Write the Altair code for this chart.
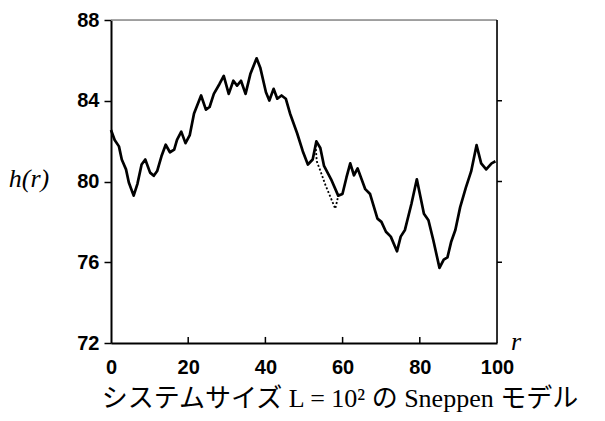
import altair as alt
import pandas as pd

# solid trajectory h(r)
r_solid = [0.0, 0.95, 2.06, 2.79, 3.89, 4.62, 5.87, 6.83, 7.93, 8.88, 10.13, 11.08, 11.96,
           13.07, 14.17, 15.27, 16.37, 17.10, 18.20, 19.30, 20.41, 21.51, 23.34, 24.59, 25.54,
           26.64, 28.11, 29.21, 30.5, 31.7, 32.66, 33.68, 34.86, 36.1, 37.72, 38.67, 40.14,
           41.02, 42.12, 43.08, 44.18, 45.28, 46.38, 48.22, 49.68, 51.0, 52.25, 53.21, 54.23,
           55.19, 57.02, 58.86, 59.96, 61.0, 61.98, 62.94, 63.89, 65.87, 67.12, 69.03, 70.06,
           71.23, 72.48, 74.09, 75.05, 76.15, 77.84, 79.23, 81.07, 82.24, 83.49, 85.1, 86.2,
           87.16, 88.11, 89.21, 90.46, 91.93, 93.3, 94.7, 95.9, 97.2, 98.6, 99.6]
h_solid = [82.55, 82.06, 81.74, 81.09, 80.6, 79.95, 79.3, 79.87, 80.84, 81.09, 80.44, 80.28, 80.52,
           81.25, 81.82, 81.45, 81.58, 82.06, 82.47, 81.9, 82.3, 83.37, 84.26, 83.56, 83.69,
           84.34, 84.83, 85.23, 84.34, 84.99, 84.75, 84.99, 84.34, 85.32, 86.1, 85.64, 84.42,
           84.01, 84.59, 84.1, 84.26, 84.1, 83.37, 82.39, 81.5, 80.84, 81.09, 81.99, 81.66,
           80.77, 80.11, 79.3, 79.38, 80.2, 80.9, 80.31, 80.65, 79.62, 79.38, 78.16, 78.0,
           77.51, 77.27, 76.54, 77.27, 77.6, 78.9, 80.11, 78.4, 78.08, 77.1, 75.72, 76.13,
           76.24, 77.0, 77.6, 78.73, 79.7, 80.5, 81.8, 80.9, 80.6, 80.9, 81.0]

# dotted alternative branch
r_dot = [53.0, 53.3, 54.1, 55.6, 56.7, 58.1, 58.9]
h_dot = [81.8, 81.0, 80.6, 79.8, 79.3, 78.65, 79.3]

x_ticks = [0, 20, 40, 60, 80, 100]
y_ticks = [72, 76, 80, 84, 88]
inner_x_ticks = [20, 40, 60, 80]

W, H = 386, 323

solid = pd.DataFrame({"r": r_solid, "h": h_solid, "i": list(range(len(r_solid)))})
dot = pd.DataFrame({"r": r_dot, "h": h_dot, "i": list(range(len(r_dot)))})

xs = alt.Scale(domain=[0, 100], nice=False, zero=False)
ys = alt.Scale(domain=[72, 88], nice=False, zero=False)

x_axis = alt.Axis(values=x_ticks, ticks=False, domain=True, domainColor="black", domainWidth=2,
                  labelFont="Liberation Sans", labelFontWeight="bold", labelFontSize=20,
                  labelColor="black", labelPadding=14, labelFlush=False, grid=False, title=None)
y_axis = alt.Axis(values=y_ticks, ticks=True, tickSize=7, tickWidth=1.5, tickColor="black",
                  domain=True, domainColor="black", domainWidth=2,
                  labelFont="Liberation Sans", labelFontWeight="bold", labelFontSize=20,
                  labelColor="black", labelPadding=5, labelFlush=False, grid=False, title=None)

line = alt.Chart(solid).mark_line(color="black", strokeWidth=2.7, strokeJoin="round").encode(
    x=alt.X("r:Q", scale=xs, axis=x_axis),
    y=alt.Y("h:Q", scale=ys, axis=y_axis),
    order="i:Q",
)

dotted = alt.Chart(dot).mark_line(color="black", strokeWidth=1.8, strokeDash=[2, 2]).encode(
    x=alt.X("r:Q", scale=xs),
    y=alt.Y("h:Q", scale=ys),
    order="i:Q",
)

# frame: right border and grey top border
right_df = pd.DataFrame({"x": [100], "y": [72], "y2": [88]})
right_border = alt.Chart(right_df).mark_rule(color="black", strokeWidth=1.6).encode(
    x=alt.X("x:Q", scale=xs), y=alt.Y("y:Q", scale=ys), y2="y2:Q")
top_df = pd.DataFrame({"x": [0], "x2": [100], "y": [88]})
top_border = alt.Chart(top_df).mark_rule(color="#888888", strokeWidth=1.4).encode(
    x=alt.X("x:Q", scale=xs), x2="x2:Q", y=alt.Y("y:Q", scale=ys))

# inward ticks on the bottom axis
bt_df = pd.DataFrame({"x": inner_x_ticks, "y": [72] * 4, "y2": [72.3] * 4})
bottom_ticks = alt.Chart(bt_df).mark_rule(color="black", strokeWidth=1.5).encode(
    x=alt.X("x:Q", scale=xs), y=alt.Y("y:Q", scale=ys), y2="y2:Q")

# outward ticks on the right border
rt_df = pd.DataFrame({"x": [100] * 3, "x2": [101.3] * 3, "y": [76, 80, 84]})
right_ticks = alt.Chart(rt_df).mark_rule(color="black", strokeWidth=1.5).encode(
    x=alt.X("x:Q", scale=xs), x2="x2:Q", y=alt.Y("y:Q", scale=ys))

# texts
ylab = alt.Chart(pd.DataFrame({"t": ["h(r)"]})).mark_text(
    font="Liberation Serif", fontStyle="italic", fontSize=26, color="black", align="center",
    baseline="middle").encode(x=alt.value(-82), y=alt.value(159), text="t:N")
rlab = alt.Chart(pd.DataFrame({"t": ["r"]})).mark_text(
    font="Liberation Serif", fontStyle="italic", fontSize=26, color="black", align="center",
    baseline="middle").encode(x=alt.value(405), y=alt.value(322), text="t:N")
caption = alt.Chart(pd.DataFrame({"t": ["システムサイズ L = 10² の Sneppen モデル"]})).mark_text(
    font="Liberation Serif, Noto Sans CJK JP", fontSize=26, color="black", align="center",
    baseline="middle").encode(x=alt.value(229), y=alt.value(379), text="t:N")

chart = alt.layer(top_border, right_border, right_ticks, bottom_ticks, line, dotted,
                  ylab, rlab, caption).properties(
    width=W, height=H,
    autosize="none",
    padding={"left": 103, "top": 12, "right": 100, "bottom": 70},
).configure_view(stroke=None).configure(background="white")

chart.save("out.html", embed_options={"renderer": "svg", "actions": False})
